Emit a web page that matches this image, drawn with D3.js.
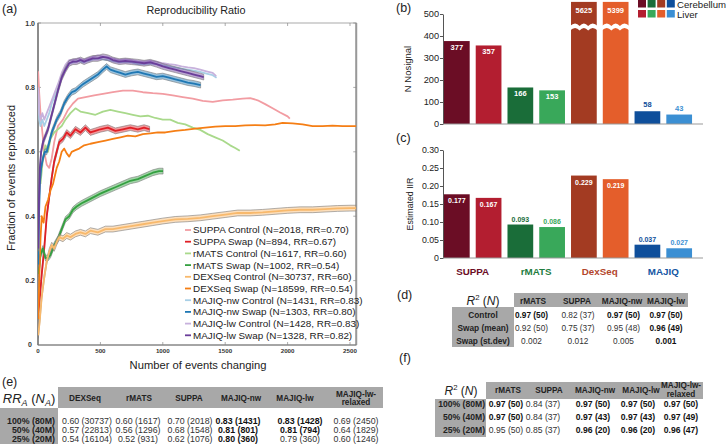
<!DOCTYPE html>
<html><head><meta charset="utf-8">
<script src="https://cdn.jsdelivr.net/npm/d3@7"></script>
<style>body{margin:0;background:#fff} svg{display:block} text{font-family:"Liberation Sans",Arial,sans-serif}</style>
</head><body><svg id="c" width="726" height="447"></svg>
<script>
// ---------------- DATA: panel (a) reproducibility curves ----------------
const suppaControl = [[1,0.85],[10,0.78],[20,0.72],[35,0.66],[50,0.6],[70,0.56],[90,0.55],[110,0.58],[130,0.63],[160,0.68],[200,0.70],[240,0.73],[280,0.75],[320,0.765],[380,0.77],[450,0.775],[520,0.78],[600,0.785],[680,0.79],[760,0.79],[840,0.785],[920,0.782],[1000,0.78],[1080,0.775],[1160,0.77],[1240,0.765],[1320,0.758],[1400,0.755],[1480,0.76],[1560,0.762],[1640,0.765],[1700,0.767],[1760,0.76],[1820,0.748],[1880,0.735],[1940,0.722],[2000,0.71],[2018,0.703]];
const suppaSwap = [[2,0.10],[15,0.15],[30,0.22],[50,0.30],[70,0.40],[90,0.46],[110,0.52],[130,0.57],[150,0.60],[170,0.63],[200,0.64],[230,0.66],[260,0.65],[300,0.67],[340,0.66],[380,0.675],[420,0.66],[460,0.665],[500,0.67],[560,0.675],[620,0.665],[680,0.67],[740,0.675],[800,0.67],[850,0.675],[894,0.67]];
const rmatsControl = [[20,0.5],[40,0.58],[60,0.62],[80,0.60],[100,0.64],[130,0.66],[160,0.67],[190,0.68],[220,0.70],[260,0.72],[300,0.735],[340,0.725],[400,0.72],[460,0.715],[520,0.725],[580,0.73],[640,0.725],[700,0.72],[760,0.715],[820,0.71],[880,0.712],[940,0.705],[1000,0.70],[1060,0.70],[1120,0.69],[1180,0.685],[1240,0.675],[1300,0.668],[1360,0.655],[1420,0.645],[1480,0.635],[1540,0.62],[1580,0.612],[1617,0.603]];
const rmatsSwap = [[5,0.22],[20,0.28],[40,0.30],[60,0.27],[80,0.27],[100,0.28],[130,0.31],[160,0.33],[190,0.36],[220,0.39],[250,0.40],[280,0.42],[310,0.43],[350,0.44],[400,0.45],[450,0.46],[500,0.47],[560,0.48],[620,0.49],[680,0.50],[740,0.51],[800,0.515],[860,0.525],[920,0.535],[970,0.54],[1002,0.54]];
const dexControl = [[2,0.03],[15,0.08],[30,0.15],[50,0.21],[70,0.26],[90,0.29],[110,0.31],[130,0.30],[150,0.32],[170,0.335],[200,0.33],[230,0.34],[260,0.335],[300,0.345],[340,0.35],[380,0.345],[420,0.355],[480,0.35],[540,0.36],[600,0.36],[680,0.365],[760,0.37],[840,0.375],[920,0.38],[1000,0.385],[1100,0.39],[1200,0.392],[1300,0.395],[1400,0.40],[1500,0.405],[1600,0.41],[1700,0.41],[1800,0.412],[1900,0.415],[2000,0.418],[2100,0.42],[2200,0.42],[2300,0.422],[2400,0.424],[2500,0.425],[2550,0.425]];
const dexSwap = [[2,0.08],[10,0.2],[20,0.33],[30,0.4],[45,0.38],[60,0.43],[80,0.45],[100,0.48],[120,0.5],[150,0.55],[170,0.57],[190,0.6],[210,0.61],[230,0.595],[250,0.585],[270,0.60],[300,0.605],[330,0.61],[370,0.62],[420,0.625],[480,0.63],[540,0.635],[600,0.64],[660,0.645],[720,0.65],[780,0.648],[840,0.655],[900,0.657],[960,0.66],[1020,0.66],[1100,0.665],[1180,0.668],[1260,0.672],[1340,0.675],[1420,0.678],[1500,0.68],[1580,0.68],[1660,0.682],[1740,0.683],[1820,0.682],[1900,0.685],[1960,0.69],[2040,0.688],[2120,0.685],[2200,0.68],[2280,0.68],[2360,0.681],[2440,0.68],[2550,0.68]];
const nwControl = [[2,0.78],[10,0.70],[20,0.68],[35,0.70],[50,0.68],[70,0.70],[90,0.72],[110,0.75],[130,0.77],[160,0.80],[190,0.835],[220,0.86],[250,0.875],[280,0.878],[320,0.882],[360,0.878],[400,0.882],[440,0.887],[480,0.89],[520,0.887],[560,0.885],[600,0.882],[650,0.878],[700,0.88],[750,0.878],[800,0.872],[850,0.872],[900,0.874],[950,0.872],[1000,0.868],[1050,0.865],[1100,0.862],[1150,0.858],[1200,0.855],[1250,0.852],[1300,0.848],[1350,0.843],[1400,0.838],[1431,0.83]];
const nwSwap = [[2,0.25],[8,0.4],[15,0.5],[25,0.55],[40,0.58],[55,0.6],[70,0.6],[90,0.63],[110,0.66],[130,0.68],[150,0.70],[180,0.72],[210,0.75],[240,0.77],[270,0.785],[300,0.79],[330,0.80],[360,0.81],[400,0.82],[440,0.83],[480,0.84],[520,0.855],[550,0.865],[580,0.855],[620,0.85],[660,0.845],[700,0.84],[750,0.845],[800,0.848],[850,0.843],[900,0.838],[950,0.833],[1000,0.835],[1050,0.83],[1100,0.825],[1150,0.82],[1200,0.815],[1250,0.812],[1303,0.807]];
const lwControl = [[2,0.8],[10,0.72],[20,0.70],[35,0.72],[50,0.70],[70,0.72],[90,0.74],[110,0.76],[130,0.78],[160,0.81],[190,0.845],[220,0.87],[250,0.885],[280,0.885],[320,0.89],[360,0.885],[400,0.89],[440,0.895],[480,0.9],[520,0.895],[560,0.893],[600,0.89],[650,0.885],[700,0.887],[750,0.885],[800,0.88],[850,0.88],[900,0.882],[950,0.88],[1000,0.875],[1050,0.872],[1100,0.87],[1150,0.865],[1200,0.862],[1250,0.86],[1300,0.855],[1350,0.85],[1400,0.845],[1428,0.835]];
const lwSwap = [[2,0.3],[8,0.45],[15,0.55],[25,0.6],[40,0.63],[60,0.65],[80,0.67],[100,0.70],[120,0.73],[140,0.76],[160,0.79],[190,0.83],[220,0.855],[250,0.875],[280,0.88],[310,0.88],[340,0.885],[370,0.88],[400,0.885],[440,0.89],[480,0.89],[520,0.895],[560,0.892],[600,0.885],[650,0.88],[700,0.882],[750,0.88],[800,0.878],[850,0.875],[900,0.878],[950,0.872],[1000,0.865],[1050,0.86],[1100,0.855],[1150,0.85],[1200,0.845],[1250,0.84],[1300,0.835],[1328,0.832]];

const seriesData = [suppaControl, suppaSwap, rmatsControl, rmatsSwap, dexControl, dexSwap, nwControl, nwSwap, lwControl, lwSwap];
const seriesLabels = ["SUPPA Control (N=2018, RR=0.70)","SUPPA Swap (N=894, RR=0.67)","rMATS Control (N=1617, RR=0.60)","rMATS Swap (N=1002, RR=0.54)","DEXSeq Control (N=30737, RR=60)","DEXSeq Swap (N=18599, RR=0.54)","MAJIQ-nw Control (N=1431, RR=0.83)","MAJIQ-nw Swap (N=1303, RR=0.80)","MAJIQ-lw Control (N=1428, RR=0.83)","MAJIQ-lw Swap (N=1328, RR=0.82)"];
const seriesColors = ["#f29ca2","#e01f26","#a9d98b","#34a040","#f8b96c","#f57e14","#a8cfe6","#1f78b4","#c7b1dc","#6a3d9a"];
const seriesBand = [false,true,false,true,true,false,false,true,false,true];
const xTicksA = [0,500,1000,1500,2000,2500];
const yTicksA = [0,0.2,0.4,0.6,0.8,1.0];

// ---------------- DATA: panels (b),(c) ----------------
const tools = ["SUPPA","rMATS","DexSeq","MAJIQ"];
const tissues = ["Cerebellum","Liver"];
const nNosignal = [377,357,166,153,5625,5399,58,43];
const estIIR = [0.177,0.167,0.093,0.086,0.229,0.219,0.037,0.027];
const barColors = ["#6b0d25","#b31e30","#1a6d39","#39a85a","#a33b22","#e45e2b","#0f4f9b","#3b8fd3"];
const toolColors = ["#6b0d25","#1f7d3f","#b3462c","#1456a3"];
const yTicksB = [0,100,200,300,400,500];
const yTicksC = [0,0.05,0.10,0.15,0.20,0.25,0.30];

// ---------------- DATA: tables ----------------
const tblDCols = ["rMATS","SUPPA","MAJIQ-nw","MAJIQ-lw"];
const tblDRows = ["Control","Swap (mean)","Swap (st.dev)"];
const tblDVals = [["0.97 (50)","0.82 (37)","0.97 (50)","0.97 (50)"],["0.92 (50)","0.75 (37)","0.95 (48)","0.96 (49)"],["0.002","0.012","0.005","0.001"]];
const tblDBold = [[1,0,1,1],[0,0,0,1],[0,0,0,1]];

const tblECols = ["DEXSeq","rMATS","SUPPA","MAJIQ-nw","MAJIQ-lw","MAJIQ-lw-|relaxed"];
const tblERows = ["100% (80M)","50% (40M)","25% (20M)"];
const tblEVals = [["0.60 (30737)","0.60 (1617)","0.70 (2018)","0.83 (1431)","0.83 (1428)","0.69 (2450)"],["0.57 (22813)","0.56 (1296)","0.68 (1548)","0.81 (801)","0.81 (794)","0.64 (1829)"],["0.54 (16104)","0.52 (931)","0.62 (1076)","0.80 (360)","0.79 (360)","0.60 (1246)"]];
const tblEBold = [[0,0,0,1,1,0],[0,0,0,1,1,0],[0,0,0,1,0,0]];

const tblFCols = ["rMATS","SUPPA","MAJIQ-nw","MAJIQ-lw","MAJIQ-lw-|relaxed"];
const tblFRows = ["100% (80M)","50% (40M)","25% (20M)"];
const tblFVals = [["0.97 (50)","0.84 (37)","0.97 (50)","0.97 (50)","0.97 (50)"],["0.97 (50)","0.84 (37)","0.97 (43)","0.97 (43)","0.97 (49)"],["0.95 (50)","0.85 (37)","0.96 (20)","0.96 (20)","0.96 (47)"]];
const tblFBold = [[1,0,1,1,1],[1,0,1,1,1],[0,0,1,1,1]];

// =====================================================================
const svg = d3.select("#c");
svg.append("rect").attr("width",726).attr("height",447).attr("fill","#fff");
const TXT = "#222";

function panelLabel(x,y,t){
  svg.append("text").attr("x",x).attr("y",y).attr("font-size",12.5).attr("fill",TXT).text(t);
}

// ---------------- Panel (a) ----------------
panelLabel(2,13,"(a)");
const xA = d3.scaleLinear().domain([0,2500]).range([38,350]);
const yA = d3.scaleLinear().domain([0,1]).range([345,23]);
const gA = svg.append("g");
gA.append("text").attr("x",196).attr("y",14).attr("text-anchor","middle").attr("font-size",10.8).attr("fill",TXT).text("Reproducibility Ratio");

// frame
gA.append("rect").attr("x",xA(0)).attr("y",yA(1)).attr("width",xA(2550)-xA(0)).attr("height",yA(0)-yA(1))
  .attr("fill","none").attr("stroke","#aaa").attr("stroke-width",1);
gA.append("line").attr("x1",xA(2550)).attr("x2",xA(2550)).attr("y1",yA(1)).attr("y2",yA(0)).attr("stroke","#999").attr("stroke-width",2);
gA.append("line").attr("x1",xA(0)).attr("x2",xA(0)).attr("y1",yA(1)).attr("y2",yA(0)).attr("stroke","#444").attr("stroke-width",1);
gA.append("line").attr("x1",xA(0)).attr("x2",xA(2550)).attr("y1",yA(0)).attr("y2",yA(0)).attr("stroke","#777").attr("stroke-width",1);
// inward ticks
xTicksA.slice(1).forEach(t=>{
  gA.append("line").attr("x1",xA(t)).attr("x2",xA(t)).attr("y1",yA(0)).attr("y2",yA(0)-3).attr("stroke","#888").attr("stroke-width",0.7);
  gA.append("line").attr("x1",xA(t)).attr("x2",xA(t)).attr("y1",yA(1)).attr("y2",yA(1)+3).attr("stroke","#888").attr("stroke-width",0.7);
});
yTicksA.slice(1).forEach(t=>{
  gA.append("line").attr("x1",xA(0)).attr("x2",xA(0)+3).attr("y1",yA(t)).attr("y2",yA(t)).attr("stroke","#888").attr("stroke-width",0.7);
  gA.append("line").attr("x1",xA(2550)).attr("x2",xA(2550)-3).attr("y1",yA(t)).attr("y2",yA(t)).attr("stroke","#888").attr("stroke-width",0.7);
});
// tick labels
yTicksA.forEach(t=>{
  gA.append("text").attr("x", t===0 ? 32 : 35).attr("y",yA(t)+ (t===0?1.5:2.5)).attr("text-anchor","end")
    .attr("font-size",7).attr("font-weight","bold").attr("fill","#333").text(t===0?"0":d3.format(".1f")(t));
});
xTicksA.forEach(t=>{
  gA.append("text").attr("x",xA(t)).attr("y",353).attr("text-anchor","middle")
    .attr("font-size",6.2).attr("font-weight","bold").attr("fill","#333").text(t);
});
gA.append("text").attr("x",198).attr("y",369).attr("text-anchor","middle").attr("font-size",11.2).attr("fill",TXT).text("Number of events changing");
gA.append("text").attr("transform","translate(15,178) rotate(-90)").attr("text-anchor","middle").attr("font-size",11).attr("fill",TXT).text("Fraction of events reproduced");

// lines
svg.append("clipPath").attr("id","clipA").append("rect").attr("x",xA(0)).attr("y",yA(1)).attr("width",xA(2550)-xA(0)).attr("height",yA(0)-yA(1));
const plotA = gA.append("g").attr("clip-path","url(#clipA)");
const lineA = d3.line().x(d=>xA(d[0])).y(d=>yA(d[1]));
const bandHalf = 0.009;
const areaA = d3.area().x(d=>xA(d[0])).y0(d=>yA(d[1]-bandHalf)).y1(d=>yA(d[1]+bandHalf));
seriesData.forEach((s,i)=>{
  if(seriesBand[i]){
    plotA.append("path").datum(s).attr("d",areaA).attr("fill",seriesColors[i]).attr("fill-opacity",0.45)
      .attr("stroke","#7a7a7a").attr("stroke-width",0.6);
  }
  plotA.append("path").datum(s).attr("d",lineA).attr("fill","none").attr("stroke",seriesColors[i])
    .attr("stroke-width",1.8).attr("stroke-linejoin","round");
});
// legend
const legA = gA.append("g");
seriesLabels.forEach((lab,i)=>{
  const y = 230 + i*11.7;
  legA.append("line").attr("x1",185).attr("x2",191).attr("y1",y).attr("y2",y).attr("stroke",seriesColors[i]).attr("stroke-width",1.8);
  legA.append("text").attr("x",193).attr("y",y+3.4).attr("font-size",9.9).attr("fill",TXT).text(lab);
});

// ---------------- Panel (b) ----------------
panelLabel(396,12,"(b)");
const xB = d3.scaleBand().domain(d3.range(nNosignal.length)).range([443,693]).paddingInner(0.19).paddingOuter(0.03);
const yB = d3.scaleLinear().domain([0,500]).range([124,14]);
const capB = 555, breakLo = 425, breakHi = 446;
const gB = svg.append("g");
gB.append("g").attr("transform","translate(443,0)").call(d3.axisLeft(yB).tickValues(yTicksB).tickSize(3).tickSizeOuter(0))
  .call(g=>{g.select(".domain").attr("stroke","#555"); g.selectAll(".tick line").attr("stroke","#555");
    g.selectAll("text").attr("font-size",9.2).attr("fill","#222").attr("font-family","Liberation Sans, Arial, sans-serif").attr("x",-4);});
gB.append("text").attr("transform","translate(411,69) rotate(-90)").attr("text-anchor","middle").attr("font-size",9.5).attr("fill",TXT).text("N Nosignal");

nNosignal.forEach((v,i)=>{
  const x0 = xB(i), w = xB.bandwidth();
  const top = yB(Math.min(v,capB));
  gB.append("rect").attr("x",x0).attr("y",top).attr("width",w).attr("height",yB(0)-top).attr("fill",barColors[i]);
  if(v>capB){
    const ya = yB(breakHi), yb = yB(breakLo), n=3, s=w/n;
    let p = `M${x0-1},${ya}`;
    for(let k=0;k<n;k++) p += ` Q${x0+s*(k+0.5)},${ya-5} ${x0+s*(k+1)+(k===n-1?1:0)},${ya}`;
    p += ` L${x0+w+1},${yb}`;
    for(let k=n-1;k>=0;k--) p += ` Q${x0+s*(k+0.5)},${yb-5} ${x0+s*k-(k===0?1:0)},${yb}`;
    p += " Z";
    gB.append("path").attr("d",p).attr("fill","#fff");
    gB.append("text").attr("x",x0+w/2).attr("y",yB(capB)+11).attr("text-anchor","middle").attr("font-size",7.5).attr("font-weight","bold").attr("fill","#fff").text(v);
  } else {
    const inside = (yB(0)-top) > 20;
    gB.append("text").attr("x",x0+w/2).attr("y",inside ? top+9 : top-4).attr("text-anchor","middle")
      .attr("font-size",7.5).attr("font-weight","bold").attr("fill",inside?"#fff":barColors[i]).text(v);
  }
});
gB.append("line").attr("x1",443).attr("x2",703).attr("y1",yB(0)).attr("y2",yB(0)).attr("stroke","#999").attr("stroke-width",1);
// legend
[0,1].forEach(r=>{
  tools.forEach((t,k)=>{
    gB.append("rect").attr("x",638+k*9.6).attr("y",0+r*10).attr("width",8).attr("height",7.5).attr("fill",barColors[k*2+r]);
  });
  gB.append("text").attr("x",677).attr("y",7.5+r*10).attr("font-size",9.6).attr("fill",TXT).text(tissues[r]);
});

// ---------------- Panel (c) ----------------
panelLabel(396,142,"(c)");
const yC = d3.scaleLinear().domain([0,0.30]).range([258,150]);
const gC = svg.append("g");
gC.append("g").attr("transform","translate(443,0)").call(d3.axisLeft(yC).tickValues(yTicksC).tickSize(3).tickSizeOuter(0).tickFormat(d=>d===0?"0":d3.format(".2f")(d)))
  .call(g=>{g.select(".domain").attr("stroke","#555"); g.selectAll(".tick line").attr("stroke","#555");
    g.selectAll("text").attr("font-size",8.8).attr("fill","#222").attr("font-family","Liberation Sans, Arial, sans-serif").attr("x",-4);});
gC.append("text").attr("transform","translate(413,204) rotate(-90)").attr("text-anchor","middle").attr("font-size",8.8).attr("fill",TXT).text("Estimated IIR");
estIIR.forEach((v,i)=>{
  const x0 = xB(i), w = xB.bandwidth(), top = yC(v);
  gC.append("rect").attr("x",x0).attr("y",top).attr("width",w).attr("height",yC(0)-top).attr("fill",barColors[i]);
  const inside = (yC(0)-top) > 45;
  gC.append("text").attr("x",x0+w/2).attr("y",inside ? top+9 : top-3).attr("text-anchor","middle")
    .attr("font-size",7).attr("font-weight","bold").attr("fill",inside?"#fff":barColors[i]).text(d3.format(".3f")(v));
});
gC.append("line").attr("x1",443).attr("x2",703).attr("y1",yC(0)).attr("y2",yC(0)).attr("stroke","#999").attr("stroke-width",1);
tools.forEach((t,k)=>{
  const cx = (xB(2*k) + xB(2*k+1) + xB.bandwidth())/2;
  gC.append("text").attr("x",cx).attr("y",275).attr("text-anchor","middle").attr("font-size",9.8).attr("font-weight","bold").attr("fill",toolColors[k]).text(t);
});

// ---------------- Tables ----------------
const GRAY = "#a8a8a8";
function r2Header(g,x,y,size){
  const t = g.append("text").attr("x",x).attr("y",y).attr("text-anchor","middle").attr("font-family","Liberation Serif, DejaVu Serif, serif").attr("font-size",size).attr("fill",TXT);
  t.append("tspan").attr("font-style","italic").text("R");
  t.append("tspan").attr("font-size",size*0.65).attr("dy",-size*0.4).text("2");
  t.append("tspan").attr("dy",size*0.4).text(" (");
  t.append("tspan").attr("font-style","italic").text("N");
  t.append("tspan").text(")");
}
function drawTable(cfg){
  const g = svg.append("g");
  g.append("rect").attr("x",cfg.hx0).attr("y",cfg.hy0).attr("width",cfg.hx1-cfg.hx0).attr("height",cfg.hy1-cfg.hy0).attr("fill",GRAY);
  g.append("rect").attr("x",cfg.rx0).attr("y",cfg.hy1).attr("width",cfg.hx0-cfg.rx0).attr("height",cfg.ry1-cfg.hy1).attr("fill",GRAY);
  cfg.cols.forEach((c,j)=>{
    const lines = c.split("|");
    lines.forEach((ln,k)=>{
      g.append("text").attr("x",cfg.hcx[j]).attr("y",cfg.hty + (k-(lines.length-1)/2)*cfg.hlh).attr("text-anchor","middle")
        .attr("font-size",cfg.hfs).attr("font-weight","bold").attr("fill",TXT).text(ln);
    });
  });
  cfg.rows.forEach((r,i)=>{
    g.append("text").attr("x",cfg.rlx).attr("y",cfg.rowY[i]).attr("text-anchor",cfg.rla).attr("font-size",cfg.fs).attr("font-weight","bold").attr("fill",TXT).text(r);
    cfg.vals[i].forEach((v,j)=>{
      g.append("text").attr("x",cfg.ccx[j]).attr("y",cfg.rowY[i]).attr("text-anchor","middle").attr("font-size",cfg.fs)
        .attr("font-weight",cfg.bold[i][j]?"bold":"normal").attr("fill",cfg.bold[i][j]?"#111":"#333").text(v);
    });
  });
  return g;
}

// (d)
panelLabel(397,299,"(d)");
const gD = drawTable({hx0:514,hx1:688,hy0:293,hy1:307,rx0:452,ry1:347,
  cols:tblDCols,hcx:[533,577,622,666],hty:303.5,hlh:8,hfs:8.3,
  rows:tblDRows,rlx:483,rla:"middle",rowY:[317.5,330.5,344],fs:8.3,vals:tblDVals,bold:tblDBold,ccx:[531.5,578,623.5,666]});
r2Header(gD,483,305,12);

// (e)
panelLabel(2,386,"(e)");
const gE = drawTable({hx0:58,hx1:383,hy0:387,hy1:408,rx0:0,ry1:444,
  cols:tblECols,hcx:[85,139,189,241,295,356],hty:401,hlh:8.5,hfs:8.2,
  rows:tblERows,rlx:55,rla:"end",rowY:[423.5,432.8,442.3],fs:8.8,vals:tblEVals,bold:tblEBold,ccx:[87,138,190,238,300,356]});
{
  const t = gE.append("text").attr("x",29).attr("y",403).attr("text-anchor","middle").attr("font-family","Liberation Serif, DejaVu Serif, serif").attr("font-size",13).attr("fill",TXT);
  t.append("tspan").attr("font-style","italic").text("RR");
  t.append("tspan").attr("font-style","italic").attr("font-size",9).attr("dy",3).text("A");
  t.append("tspan").attr("dy",-3).text(" (");
  t.append("tspan").attr("font-style","italic").text("N");
  t.append("tspan").attr("font-style","italic").attr("font-size",9).attr("dy",3).text("A");
  t.append("tspan").attr("dy",-3).text(")");
}

// (f)
panelLabel(399,362,"(f)");
const gF = drawTable({hx0:486,hx1:703,hy0:382,hy1:399,rx0:435,ry1:437,
  cols:tblFCols,hcx:[508,549,595,641,681],hty:392.5,hlh:8.5,hfs:8.2,
  rows:tblFRows,rlx:485,rla:"end",rowY:[406.5,419.5,432.5],fs:8.6,vals:tblFVals,bold:tblFBold,ccx:[506,543,593,638,681]});
r2Header(gF,461,395,12);
</script></body></html>
